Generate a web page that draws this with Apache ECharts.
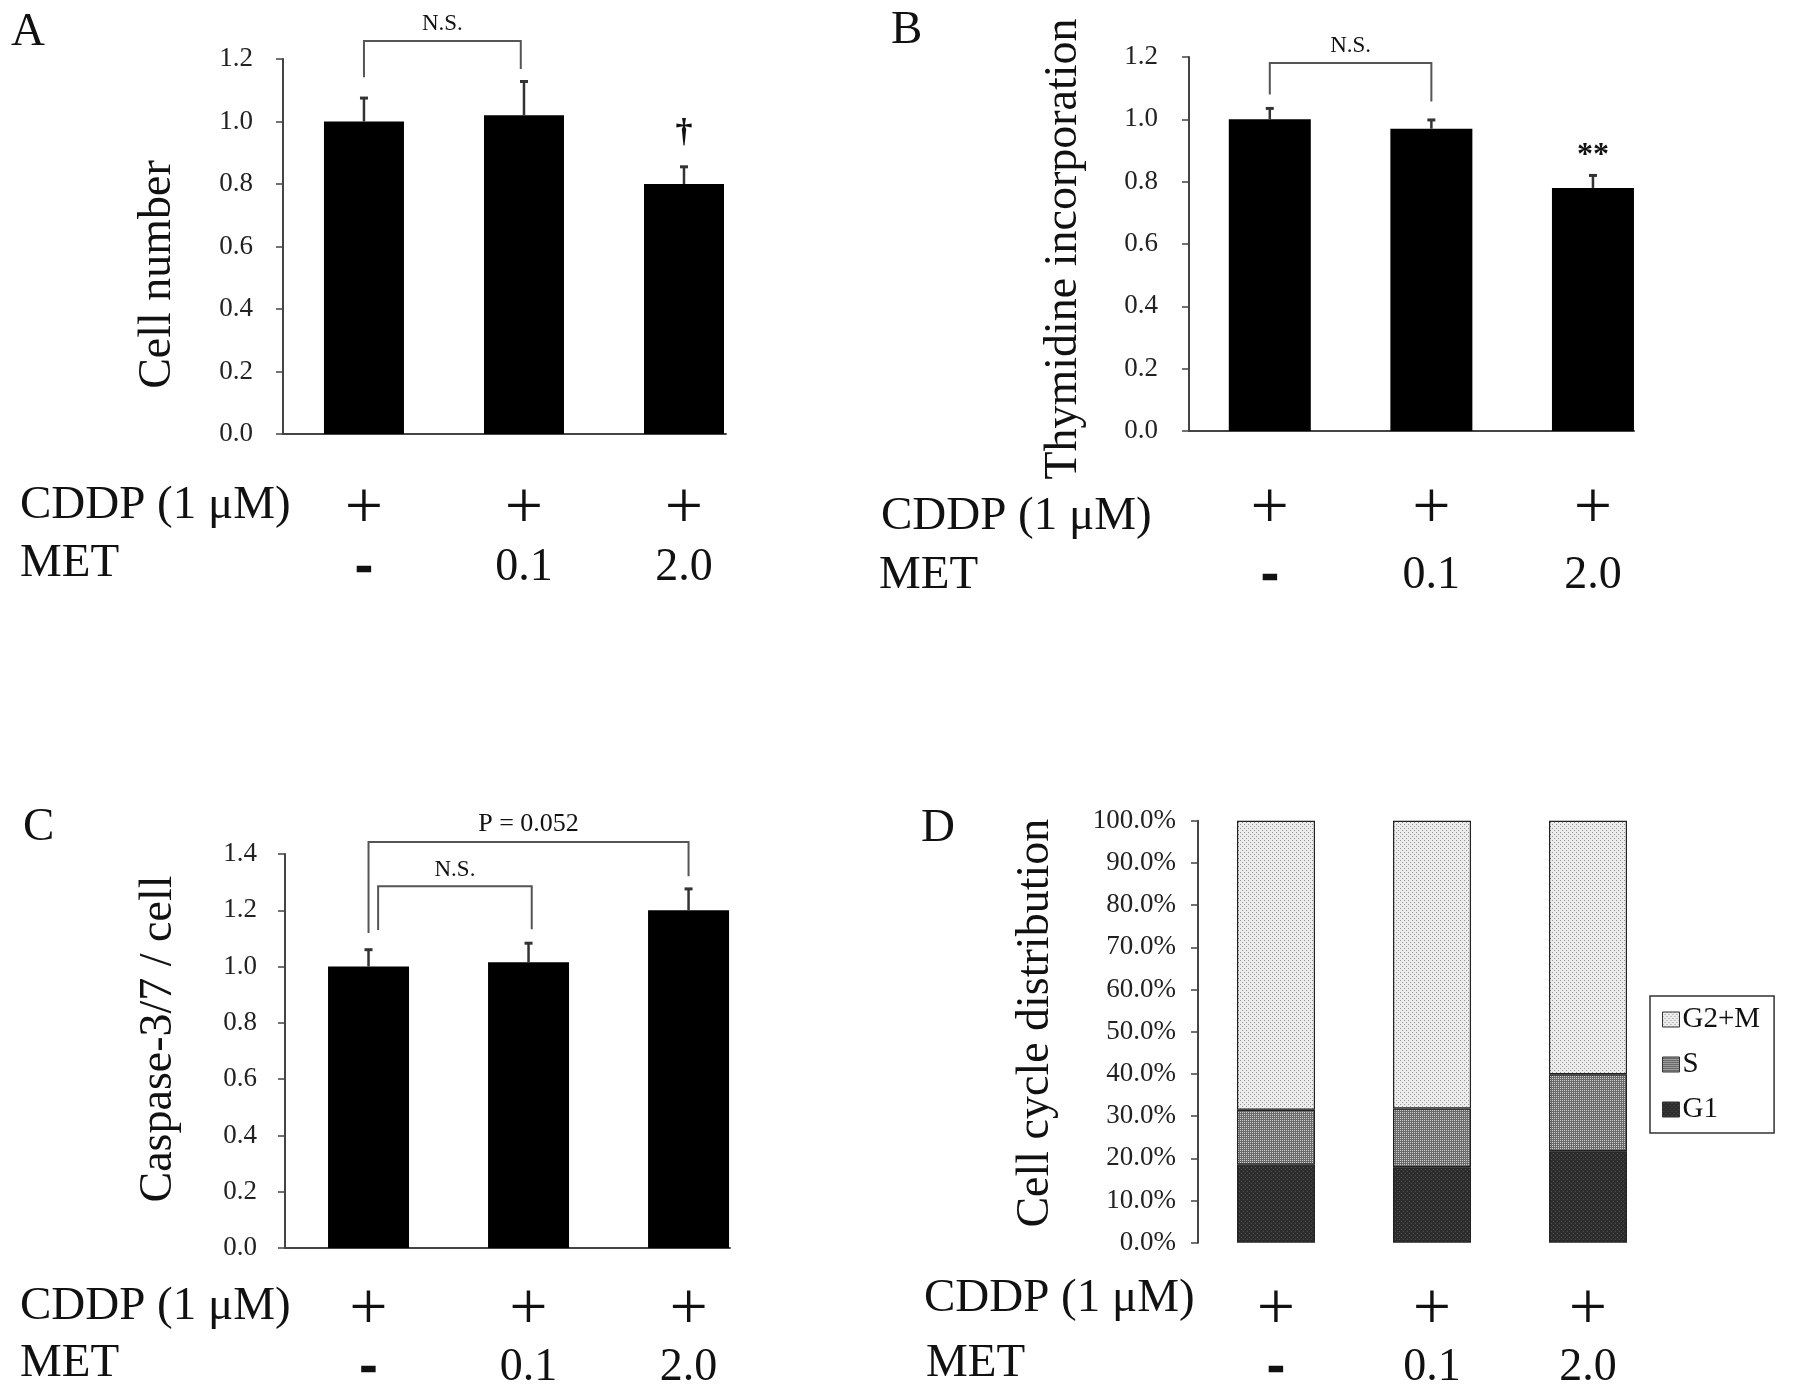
<!DOCTYPE html>
<html><head><meta charset="utf-8">
<script src="https://cdn.jsdelivr.net/npm/echarts@6/dist/echarts.min.js"></script>
<style>html,body{margin:0;padding:0;background:#fff}#c{width:1795px;height:1396px}</style>
</head><body><div id="c"></div>
<script>
// ---------------- data ----------------
const cddpRow = ['+', '+', '+'];
const metRow = ['-', '0.1', '2.0'];

const cellNumber = [1.00, 1.02, 0.80];
const cellNumberErr = [0.075, 0.108, 0.055];
const cellNumberSig = ['', '', '†'];

const thymidine = [1.00, 0.97, 0.78];
const thymidineErr = [0.035, 0.028, 0.04];
const thymidineSig = ['', '', '**'];

const caspase = [1.00, 1.015, 1.20];
const caspaseErr = [0.06, 0.068, 0.076];
const caspaseSig = ['', '', ''];

const phaseNames = ['G1', 'S', 'G2+M'];
const g1Phase = [18.5, 17.9, 21.7];
const sPhase = [13.0, 13.9, 18.2];
const g2mPhase = [68.5, 68.2, 60.1];

const yTicksBar = { A: [0, 1.2, 0.2], B: [0, 1.2, 0.2], C: [0, 1.4, 0.2] };
const yTicksCycle = [0, 100, 10];

// brackets: [xFrom, xTo, yTop, yLeftEnd, yRightEnd, label]
const bracketsA = [[0, 0.98, 1.258, 1.142, 1.168, 'N.S.']];
const bracketsB = [[0, 1.0, 1.181, 1.08, 1.057, 'N.S.']];
const bracketsC = [[0, 2.0, 1.443, 1.119, 1.321, 'P = 0.052'], [0.06, 1.02, 1.285, 1.13, 1.133, 'N.S.']];

// ---------------- style / layout ----------------
const SERIF = "'Liberation Serif','Times New Roman',serif";
const INK = '#111';
const AX = '#444';

function pattern(bg, fg, pts) {
  const c = document.createElement('canvas');
  c.width = 4; c.height = 4;
  const g = c.getContext('2d');
  g.fillStyle = bg; g.fillRect(0, 0, 4, 4);
  g.fillStyle = fg;
  pts.forEach(p => g.fillRect(p[0], p[1], 1, 1));
  return { image: c, repeat: 'repeat' };
}
const patG2M = pattern('#ececec', '#959595', [[0, 0], [2, 2]]);
const patS = pattern('#6a6a6a', '#d0d0d0', [[0, 0], [2, 2], [2, 0], [0, 2]]);
const patG1 = pattern('#2c2c2c', '#555555', [[1, 1], [3, 3]]);

function rich(lh2) {
  return {
    p: { fontFamily: SERIF, fontSize: 68, lineHeight: 60, color: INK, align: 'center' },
    m: { fontFamily: SERIF, fontSize: 46, lineHeight: lh2, color: INK, align: 'center' },
    d: { fontFamily: SERIF, fontSize: 46, fontWeight: 'bold', lineHeight: lh2, color: INK, align: 'center',
         textBorderColor: INK, textBorderWidth: 2.5 }
  };
}
function rowLabel(i) {
  const met = metRow[i];
  return '{p|' + cddpRow[i] + '}\n' + (met === '-' ? '{d|-}' : '{m|' + met + '}');
}

const panels = [
  { key: 'A', grid: { left: 283, top: 59, width: 443, height: 375 }, xr: [-0.506, 2.2625], barW: 80,
    vals: cellNumber, errs: cellNumberErr, sig: cellNumberSig, br: bracketsA, name: 'Cell number',
    namePad: [0, 56, 0, 0], nameGap: 102, labMargin: 30, xMargin: 46, lh2: 56 },
  { key: 'B', grid: { left: 1189, top: 57, width: 445, height: 374 }, xr: [-0.5, 2.254], barW: 82,
    vals: thymidine, errs: thymidineErr, sig: thymidineSig, br: bracketsB, name: 'Thymidine incorporation',
    namePad: [0, 10, 0, 0], nameGap: 102, labMargin: 31, xMargin: 49, lh2: 72 },
  { key: 'C', grid: { left: 285, top: 854, width: 445, height: 394 }, xr: [-0.522, 2.259], barW: 81,
    vals: caspase, errs: caspaseErr, sig: caspaseSig, br: bracketsC, name: 'Caspase-3/7 / cell',
    namePad: [0, 0, 0, 24], nameGap: 103, labMargin: 28, xMargin: 33, lh2: 54 }
];

const grids = [], xAxes = [], yAxes = [], series = [];

panels.forEach((pn, k) => {
  grids.push(pn.grid);
  xAxes.push({
    type: 'value', gridIndex: k, min: pn.xr[0], max: pn.xr[1],
    splitLine: { show: false },
    axisLine: { show: true, onZero: false, lineStyle: { color: AX, width: 2 } },
    axisTick: { show: false },
    axisLabel: {
      customValues: [0, 1, 2], margin: pn.xMargin,
      formatter: v => rowLabel(Math.round(v)), rich: rich(pn.lh2)
    }
  });
  const t = yTicksBar[pn.key];
  yAxes.push({
    type: 'value', gridIndex: k, min: t[0], max: t[1], interval: t[2],
    name: pn.name, nameLocation: 'middle', nameRotate: 90, nameGap: pn.nameGap,
    nameTextStyle: { fontFamily: SERIF, fontSize: 46, color: INK, padding: pn.namePad },
    splitLine: { show: false },
    axisLine: { show: true, onZero: false, lineStyle: { color: AX, width: 2 } },
    axisTick: { show: true, length: 7, lineStyle: { color: AX, width: 1.5 } },
    axisLabel: { fontFamily: SERIF, fontSize: 27, color: '#222', margin: pn.labMargin,
      formatter: v => v.toFixed(1) }
  });
  series.push({
    type: 'bar', xAxisIndex: k, yAxisIndex: k, barWidth: pn.barW,
    itemStyle: { color: '#000' },
    data: pn.vals.map((v, i) => [i, v])
  });
  series.push({
    type: 'custom', xAxisIndex: k, yAxisIndex: k, z: 5,
    data: pn.vals.map((v, i) => [i, v, pn.errs[i]]),
    renderItem: (params, api) => {
      const i = params.dataIndex;
      const x = api.value(0), v = api.value(1), e = api.value(2);
      const p0 = api.coord([x, v]);
      const p1 = api.coord([x, v + e]);
      const children = [
        { type: 'line', shape: { x1: p0[0], y1: p0[1], x2: p1[0], y2: p1[1] },
          style: { stroke: '#333', lineWidth: 2.5 } },
        { type: 'line', shape: { x1: p1[0] - 4, y1: p1[1], x2: p1[0] + 4, y2: p1[1] },
          style: { stroke: '#333', lineWidth: 3 } }
      ];
      const s = pn.sig[i];
      if (s) {
        const dagger = s === '†';
        children.push({ type: 'text', style: {
          text: s, x: p1[0], y: p1[1] - (dagger ? 34 : 20),
          fontFamily: SERIF, fontSize: dagger ? 34 : 32, fontWeight: 'bold', fill: INK,
          align: 'center', verticalAlign: 'middle' } });
      }
      return { type: 'group', children };
    }
  });
  series.push({
    type: 'custom', xAxisIndex: k, yAxisIndex: k, z: 5, clip: false,
    data: pn.br.map(b => b.slice(0, 5)),
    renderItem: (params, api) => {
      const b = pn.br[params.dataIndex];
      const a = api.coord([b[0], b[3]]);
      const tl = api.coord([b[0], b[2]]);
      const tr = api.coord([b[1], b[2]]);
      const r = api.coord([b[1], b[4]]);
      return { type: 'group', children: [
        { type: 'polyline', shape: { points: [a, tl, tr, r] },
          style: { stroke: '#555', lineWidth: 2, fill: null } },
        { type: 'text', style: { text: b[5], x: (tl[0] + tr[0]) / 2, y: tl[1] - 5,
          fontFamily: SERIF, fontSize: b[5] === 'N.S.' ? 23 : 26, fill: INK,
          align: 'center', verticalAlign: 'bottom' } }
      ] };
    }
  });
});

// Panel D: cell cycle distribution (stacked)
grids.push({ left: 1198, top: 820.7, width: 468, height: 422 });
xAxes.push({
  type: 'category', gridIndex: 3, data: metRow,
  axisLine: { show: false }, axisTick: { show: false },
  axisLabel: { margin: 38, formatter: (v, i) => rowLabel(i), rich: rich(54) }
});
yAxes.push({
  type: 'value', gridIndex: 3, min: yTicksCycle[0], max: yTicksCycle[1], interval: yTicksCycle[2],
  name: 'Cell cycle distribution', nameLocation: 'middle', nameRotate: 90, nameGap: 139,
  nameTextStyle: { fontFamily: SERIF, fontSize: 46, color: INK, padding: [0, 0, 0, 17] },
  splitLine: { show: false },
  axisLine: { show: true, onZero: false, lineStyle: { color: AX, width: 2 } },
  axisTick: { show: true, length: 7, lineStyle: { color: AX, width: 1.5 } },
  axisLabel: { fontFamily: SERIF, fontSize: 27, color: '#222', margin: 22,
    formatter: v => v.toFixed(1) + '%' }
});
const phaseData = [g1Phase, sPhase, g2mPhase];
const phasePats = [patG1, patS, patG2M];
phaseNames.forEach((nm, j) => {
  series.push({
    name: nm, type: 'bar', stack: 'cycle', xAxisIndex: 3, yAxisIndex: 3, barWidth: 78,
    itemStyle: { color: phasePats[j], borderColor: '#222', borderWidth: 1.2 },
    data: phaseData[j]
  });
});

const graphicTexts = [
  ['A', 11, 36], ['B', 891, 34], ['C', 23, 831], ['D', 921, 832]
].map(t => ({ type: 'text', left: t[1], top: t[2] - 27,
  style: { text: t[0], fontFamily: SERIF, fontSize: 47, fill: INK } }));

const rowHeads = [
  [20, 510, 20, 568], [881, 521, 879, 580], [20, 1311, 20, 1368], [924, 1303, 926, 1368]
];
rowHeads.forEach(r => {
  graphicTexts.push({ type: 'text', left: r[0], top: r[1] - 28,
    style: { text: 'CDDP (1 μM)', fontFamily: SERIF, fontSize: 47, fill: INK } });
  graphicTexts.push({ type: 'text', left: r[2], top: r[3] - 28,
    style: { text: 'MET', fontFamily: SERIF, fontSize: 47, fill: INK } });
});

const chart = echarts.init(document.getElementById('c'), null, { renderer: 'canvas' });
chart.setOption({
  backgroundColor: '#fff',
  animation: false,
  grid: grids, xAxis: xAxes, yAxis: yAxes, series,
  legend: {
    data: ['G2+M', 'S', 'G1'], orient: 'vertical', left: 1650, top: 996,
    padding: [9, 14, 9, 12], itemGap: 16, itemWidth: 17, itemHeight: 15,
    icon: 'rect', borderColor: '#333', borderWidth: 1.5, selectedMode: false,
    itemStyle: { borderColor: '#333', borderWidth: 1 },
    textStyle: { fontFamily: SERIF, fontSize: 29, color: INK, padding: [0, 0, 0, -2] }
  },
  graphic: graphicTexts
});
</script>
</body></html>
